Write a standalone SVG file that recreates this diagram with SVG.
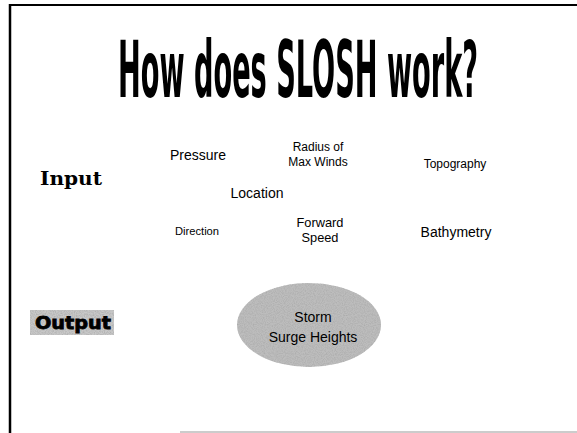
<svg xmlns="http://www.w3.org/2000/svg" width="577" height="433" viewBox="0 0 577 433">
<style>
.t{font-family:"Liberation Sans",Arial,sans-serif;fill:#000;text-anchor:middle}
.s14{font-size:14px}
.s12{font-size:12px}
.s13{font-size:12.8px}
.s11{font-size:11.2px}
</style>
<defs>
<filter id="noise" x="0" y="0" width="100%" height="100%">
<feTurbulence type="fractalNoise" baseFrequency="0.9" numOctaves="2" seed="3" result="n"/>
<feColorMatrix in="n" type="matrix" values="0 0 0 0 0.4  0 0 0 0 0.4  0 0 0 0 0.4  0 0 0 1.6 -0.55" result="m"/>
<feComposite in="m" in2="SourceGraphic" operator="in" result="c"/>
<feMerge><feMergeNode in="SourceGraphic"/><feMergeNode in="c"/></feMerge>
</filter>
</defs>
<rect width="577" height="433" fill="#fff"/>
<g id="frame" stroke="#000" fill="none">
<line x1="9" y1="5" x2="577" y2="5" stroke-width="2"/>
<line x1="10" y1="4" x2="10" y2="433" stroke-width="2.5"/>
<line x1="180" y1="432" x2="577" y2="432" stroke="#999" stroke-width="1"/>
</g>
<g id="title" transform="translate(118,97) scale(1,2.6)">
<text x="0" y="0" font-family="DejaVu Sans Condensed, DejaVu Sans, sans-serif" font-weight="bold" font-size="30" textLength="360" lengthAdjust="spacingAndGlyphs">How does SLOSH work?</text>
</g>
<g id="input"><text x="40" y="185" font-family="DejaVu Serif, serif" font-weight="bold" font-size="18" textLength="62" lengthAdjust="spacingAndGlyphs">Input</text></g>
<g id="pressure"><text class="t s14" x="198" y="160">Pressure</text></g>
<g id="radius"><text class="t s12" x="318" y="151">Radius of</text><text class="t s12" x="318" y="166">Max Winds</text></g>
<g id="topography"><text class="t s12" x="455" y="168">Topography</text></g>
<g id="location"><text class="t s14" x="257" y="198">Location</text></g>
<g id="direction"><text class="t s11" x="197" y="235">Direction</text></g>
<g id="forward"><text class="t s13" x="320" y="227">Forward</text><text class="t s13" x="320" y="242">Speed</text></g>
<g id="bathymetry"><text class="t s14" x="456" y="237">Bathymetry</text></g>
<g id="output">
<rect x="30" y="310" width="84" height="25" fill="#c8c8c8" filter="url(#noise)"/>
<text x="35" y="329" font-family="DejaVu Sans, sans-serif" font-weight="bold" font-size="18" stroke="#000" stroke-width="0.8" textLength="76" lengthAdjust="spacingAndGlyphs">Output</text>
</g>
<g id="surge">
<ellipse cx="309" cy="325" rx="72" ry="42" fill="#bdbdbd" filter="url(#noise)"/>
<text class="t s14" x="313" y="322">Storm</text>
<text class="t s14" x="313" y="342">Surge Heights</text>
</g>
<g id="connectors"/>
</svg>
